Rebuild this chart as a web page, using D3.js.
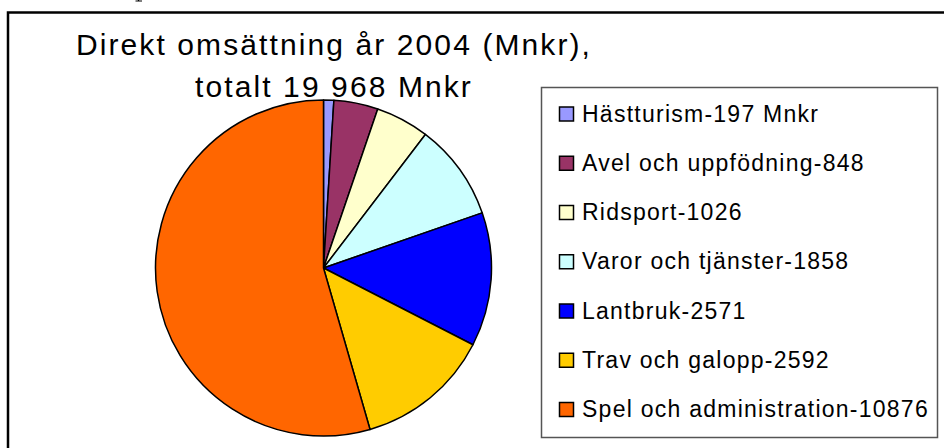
<!DOCTYPE html>
<html>
<head>
<meta charset="utf-8">
<script src="https://cdn.jsdelivr.net/npm/d3@7"></script>
<style>
  body { margin: 0; background: #fff; }
  svg { display: block; }
</style>
</head>
<body>
<div id="chart"></div>
<script>
let categories = ['Hästturism', 'Avel och uppfödning', 'Ridsport', 'Varor och tjänster',
                  'Lantbruk', 'Trav och galopp', 'Spel och administration'];
let values = [197, 848, 1026, 1858, 2571, 2592, 10876];
let labels = ['Hästturism-197 Mnkr', 'Avel och uppfödning-848', 'Ridsport-1026',
              'Varor och tjänster-1858', 'Lantbruk-2571', 'Trav och galopp-2592',
              'Spel och administration-10876'];
let colors = ['#9999ff', '#993366', '#ffffcc', '#ccffff', '#0000ff', '#ffcc00', '#ff6600'];
let titleLines = ['Direkt omsättning år 2004 (Mnkr),', 'totalt 19 968 Mnkr'];

let width = 944;
let height = 448;
let font = '"Liberation Sans", Arial, sans-serif';

let svg = d3.select('#chart').append('svg')
            .attr('width', width)
            .attr('height', height);

// foot of a letter from the page above, cut by the top edge
svg.append('path')
    .attr('d', 'M135.5,1 H142 M138.5,0 V1')
    .attr('stroke', '#000')
    .attr('stroke-width', 1.2);

// outer frame (runs off the right and bottom)
svg.append('rect')
    .attr('x', 8).attr('y', 12.5)
    .attr('width', 960).attr('height', 460)
    .attr('fill', 'none')
    .attr('stroke', '#000')
    .attr('stroke-width', 2.5);

// title
svg.append('g').selectAll('text')
    .data(titleLines)
    .join('text')
        .attr('x', 334)
        .attr('y', (d, i) => 55 + i * 42)
        .attr('text-anchor', 'middle')
        .attr('font-family', font)
        .attr('font-size', 30)
        .attr('letter-spacing', 2.1)
        .text(d => d);

// pie
let cx = 323.5, cy = 268, r = 168;
let pie = d3.pie().sort(null).value(d => d);
let arc = d3.arc().innerRadius(0).outerRadius(r);
let color = d3.scaleOrdinal().domain(categories).range(colors);

svg.append('g')
    .attr('transform', `translate(${cx},${cy})`)
    .selectAll('path')
    .data(pie(values))
    .join('path')
        .attr('d', arc)
        .attr('fill', (d, i) => color(categories[i]))
        .attr('stroke', '#000')
        .attr('stroke-width', 1.5)
        .attr('stroke-linejoin', 'round');

// legend
let legend = svg.append('g');
legend.append('rect')
    .attr('x', 541.5).attr('y', 87.5)
    .attr('width', 396).attr('height', 350)
    .attr('fill', '#fff')
    .attr('stroke', '#555')
    .attr('stroke-width', 1.5);

let rowY = d3.scalePoint().domain(categories).range([121.5, 417]);

let rows = legend.selectAll('g.row')
    .data(categories)
    .join('g')
        .attr('class', 'row')
        .attr('transform', d => `translate(0,${rowY(d)})`);

rows.append('rect')
    .attr('x', 559.5).attr('y', -14.5)
    .attr('width', 14).attr('height', 14)
    .attr('fill', d => color(d))
    .attr('stroke', '#000')
    .attr('stroke-width', 1.5);

rows.append('text')
    .attr('x', 582)
    .attr('y', 0)
    .attr('font-family', font)
    .attr('font-size', 23)
    .attr('letter-spacing', 1.25)
    .text((d, i) => labels[i]);
</script>
</body>
</html>
